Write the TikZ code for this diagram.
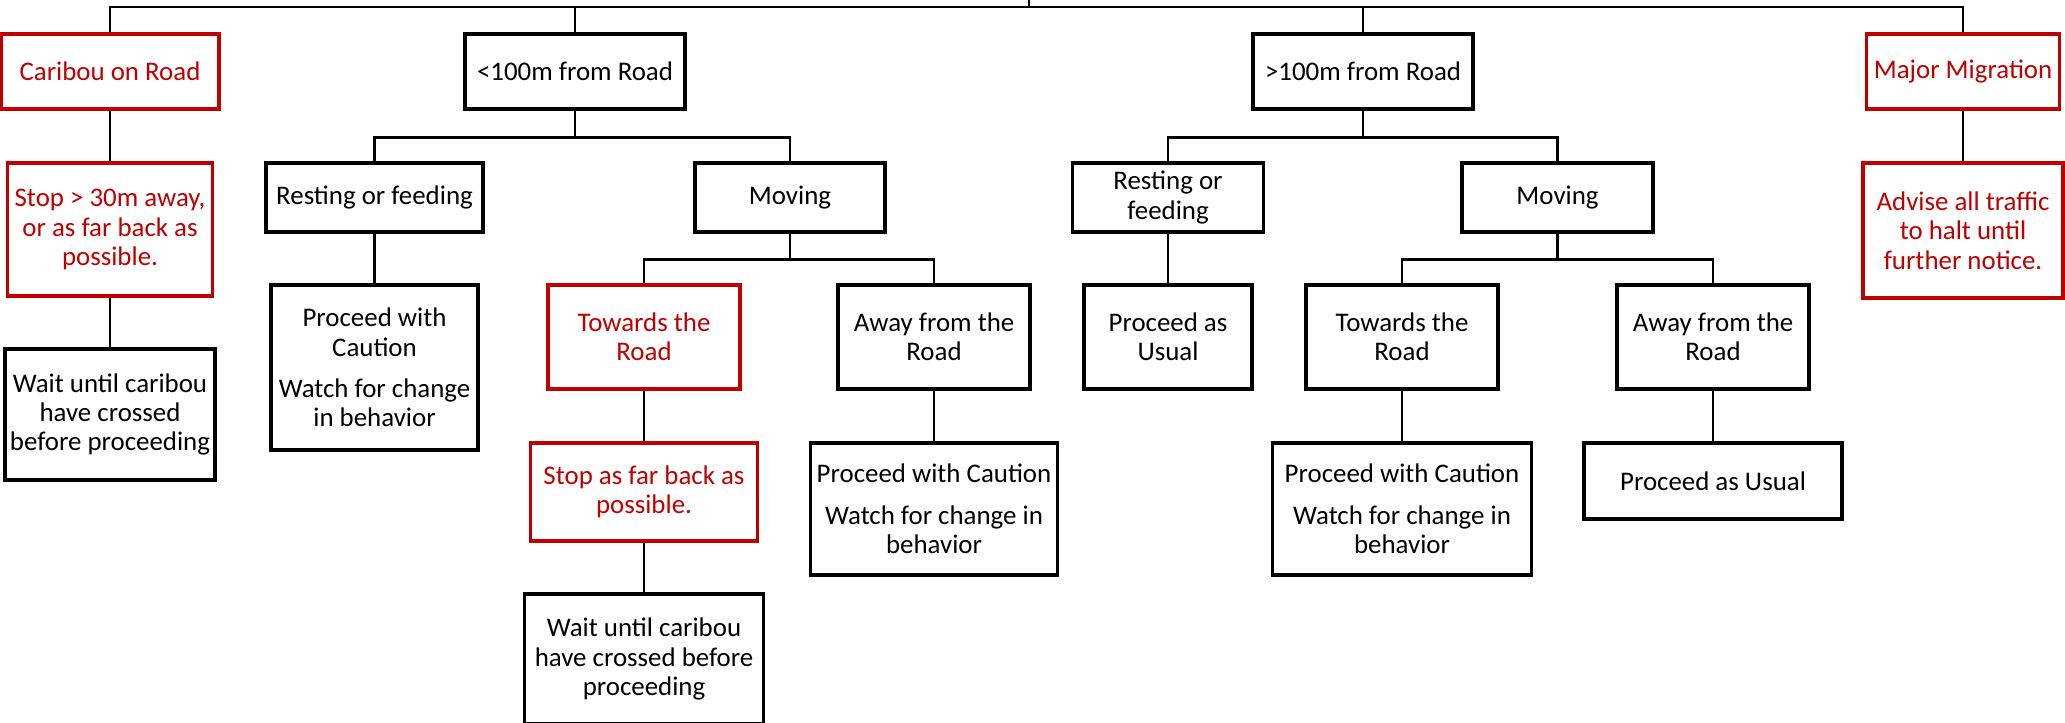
\documentclass[tikz,border=0pt]{standalone}
\usepackage{fontspec}
\setmainfont{Carlito}
\usepackage{tikz}
\definecolor{alertred}{RGB}{192,0,0}

\begin{document}
\begin{tikzpicture}[every node/.style={font=\fontsize{7.65}{8.35}\selectfont},
    box/.style={draw=black, line width=0.9pt, inner sep=0pt, align=center},
    redbox/.style={box, draw=alertred, text=alertred},
    link/.style={line width=0.7pt}]
    \useasboundingbox (0,0) rectangle (20.65,-7.22);

    % top level
    \coordinate (root) at (10.29,0);
    \node[redbox, minimum width=2.18cm, minimum height=0.75cm] (road) at (1.10,-0.715) {Caribou on Road};
    \node[box, minimum width=2.20cm, minimum height=0.75cm] (near) at (5.75,-0.715) {<100m from Road};
    \node[box, minimum width=2.20cm, minimum height=0.75cm] (far) at (13.63,-0.715) {>100m from Road};
    \node[redbox, minimum width=1.93cm, minimum height=0.75cm] (migr) at (19.63,-0.715) {Major Migration};

    % second level
    \node[redbox, minimum width=2.05cm, minimum height=1.33cm] (stop) at (1.10,-2.295) {Stop > 30m away,\\ or as far back as\\ possible.};
    \node[box, minimum width=2.17cm, minimum height=0.69cm] (nrest) at (3.745,-1.975) {Resting or feeding};
    \node[box, minimum width=1.90cm, minimum height=0.69cm] (nmove) at (7.90,-1.975) {Moving};
    \node[box, minimum width=1.91cm, minimum height=0.69cm] (frest) at (11.68,-1.975) {Resting or\\ feeding};
    \node[box, minimum width=1.91cm, minimum height=0.69cm] (fmove) at (15.575,-1.975) {Moving};
    \node[redbox, minimum width=2.00cm, minimum height=1.35cm] (advise) at (19.63,-2.305) {Advise all traffic\\ to halt until\\ further notice.};

    % third level
    \node[box, minimum width=2.10cm, minimum height=1.31cm] (wait) at (1.10,-4.145) {Wait until caribou\\ have crossed\\ before proceeding};
    \node[box, minimum width=2.07cm, minimum height=1.65cm] (ncaut) at (3.745,-3.675) {Proceed with\\ Caution\\[3.4pt] Watch for change\\ in behavior};
    \node[redbox, minimum width=1.92cm, minimum height=1.04cm] (ntow) at (6.44,-3.37) {Towards the\\ Road};
    \node[box, minimum width=1.92cm, minimum height=1.04cm] (naway) at (9.34,-3.37) {Away from the\\ Road};
    \node[box, minimum width=1.68cm, minimum height=1.04cm] (fusual) at (11.68,-3.37) {Proceed as\\ Usual};
    \node[box, minimum width=1.92cm, minimum height=1.04cm] (ftow) at (14.02,-3.37) {Towards the\\ Road};
    \node[box, minimum width=1.92cm, minimum height=1.04cm] (faway) at (17.13,-3.37) {Away from the\\ Road};

    % fourth and fifth level
    \node[redbox, minimum width=2.27cm, minimum height=0.98cm] (nstop) at (6.44,-4.92) {Stop as far back as\\ possible.};
    \node[box, minimum width=2.47cm, minimum height=1.32cm] (ncaut2) at (9.34,-5.09) {Proceed with Caution\\[3.4pt] Watch for change in\\ behavior};
    \node[box, minimum width=2.59cm, minimum height=1.32cm] (fcaut) at (14.02,-5.09) {Proceed with Caution\\[3.4pt] Watch for change in\\ behavior};
    \node[box, minimum width=2.58cm, minimum height=0.76cm] (fusual2) at (17.13,-4.81) {Proceed as Usual};
    \node[box, minimum width=2.39cm, minimum height=1.30cm] (nwait) at (6.44,-6.59) {Wait until caribou\\ have crossed before\\ proceeding};

    % top bar
    \draw[link] (root) -- ++(0,-0.07) -| (road.north);
    \draw[link] (root) -- ++(0,-0.07) -| (near.north);
    \draw[link] (root) -- ++(0,-0.07) -| (far.north);
    \draw[link] (root) -- ++(0,-0.07) -| (migr.north);

    % branches
    \draw[link] (near.south) -- ++(0,-0.27) -| (nrest.north);
    \draw[link] (near.south) -- ++(0,-0.27) -| (nmove.north);
    \draw[link] (nmove.south) -- ++(0,-0.26) -| (ntow.north);
    \draw[link] (nmove.south) -- ++(0,-0.26) -| (naway.north);
    \draw[link] (far.south) -- ++(0,-0.27) -| (frest.north);
    \draw[link] (far.south) -- ++(0,-0.27) -| (fmove.north);
    \draw[link] (fmove.south) -- ++(0,-0.26) -| (ftow.north);
    \draw[link] (fmove.south) -- ++(0,-0.26) -| (faway.north);

    % straight links
    \draw[link] (road) -- (stop);
    \draw[link] (stop) -- (wait);
    \draw[link] (nrest) -- (ncaut);
    \draw[link] (ntow) -- (nstop);
    \draw[link] (nstop) -- (nwait);
    \draw[link] (naway) -- (ncaut2);
    \draw[link] (frest) -- (fusual);
    \draw[link] (ftow) -- (fcaut);
    \draw[link] (faway) -- (fusual2);
    \draw[link] (migr) -- (advise);
\end{tikzpicture}
\end{document}
